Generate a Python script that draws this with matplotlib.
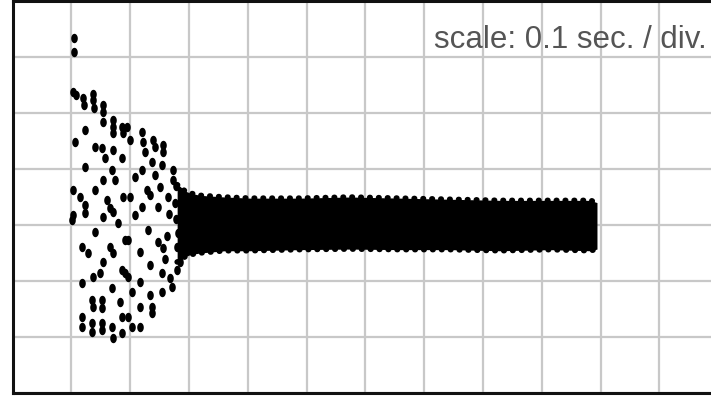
import matplotlib
matplotlib.use("Agg")
import matplotlib.pyplot as plt
import numpy as np

# trace values in scope divisions (x: 0.1 sec / div, y: amplitude div)
# scattered dots of the decaying start
dots_x = [1.03, 1.08, 1.20, 1.22, 1.37, 1.37, 1.39, 1.54, 1.54, 1.54, 1.71, 1.71,
          1.71, 1.86, 1.88, 1.23, 1.06, 1.40, 1.52, 1.71, 1.57, 1.86, 1.23, 1.69,
          1.54, 1.74, 1.03, 1.15, 1.23, 1.40, 1.61, 1.66, 1.88, 1.03, 1.54, 1.71,
          1.01, 1.23, 1.79, 1.91, 1.40, 1.18, 1.28, 1.66, 1.71, 1.54, 1.49, 1.37,
          1.86, 1.91, 1.18, 1.69, 1.35, 1.52, 1.37, 1.52, 1.83, 1.18, 1.18, 1.35,
          1.35, 1.52, 1.52, 1.69, 1.71, 1.86, 1.86,
          1.95, 1.99, 2.20, 2.22, 2.25, 2.39, 2.42, 2.56, 2.56, 2.37, 2.54, 2.73,
          2.73, 2.20, 2.08, 2.42, 2.51, 2.29, 1.99, 2.34, 2.64, 2.20, 2.47, 2.76,
          2.08, 2.30, 1.96, 2.17, 2.47, 2.56, 2.34, 2.85, 2.54, 2.68, 2.71, 2.17,
          1.96, 2.34, 2.54, 2.03, 2.17, 2.37, 2.37, 1.96, 2.03, 2.17,
          2.78, 2.78, 2.80, 2.80, 2.82, 2.66, 2.62, 2.60,
          1.05, 1.05]
dots_y = [5.38, 5.32, 5.27, 5.14, 5.34, 5.23, 5.09, 5.14, 5.02, 4.84, 4.88, 4.75,
          4.64, 4.75, 4.64, 4.70, 4.48, 4.39, 4.38, 4.34, 4.20, 4.20, 4.04, 3.98,
          3.80, 3.80, 3.63, 3.50, 3.36, 3.63, 3.45, 3.30, 3.50, 3.18, 3.14, 3.23,
          3.09, 3.21, 3.04, 2.73, 2.88, 2.61, 2.50, 2.61, 2.50, 2.34, 2.14, 2.07,
          2.20, 2.14, 1.96, 1.88, 1.66, 1.66, 1.54, 1.52, 1.63, 1.36, 1.18, 1.25,
          1.09, 1.25, 1.13, 1.18, 0.98, 1.36, 1.07,
          4.75, 4.52, 4.66, 4.48, 4.30, 4.52, 4.39, 4.43, 4.30, 4.13, 4.07, 3.98,
          3.80, 3.98, 3.86, 3.89, 3.68, 3.63, 3.50, 3.54, 3.50, 3.32, 3.32, 3.39,
          3.18, 2.91, 2.73, 2.52, 2.70, 2.59, 2.29, 2.34, 2.14, 2.05, 1.89, 1.98,
          2.07, 1.75, 1.80, 1.80, 1.54, 1.54, 1.43, 1.36, 1.18, 1.18,
          3.70, 3.10, 2.60, 2.20, 2.85, 3.20, 2.80, 2.40,
          6.34, 6.09]

# envelope of the dense steady band
band_x = [2.80, 2.85, 2.93, 3.02, 3.19, 3.61, 4.04, 4.89, 5.74, 6.59, 7.44,
          8.29, 9.14, 9.83, 9.94]
band_top = [3.72, 3.69, 3.61, 3.57, 3.53, 3.50, 3.48, 3.48, 3.50, 3.48, 3.46,
            3.44, 3.44, 3.44, 3.40]
band_bottom = [2.34, 2.36, 2.43, 2.47, 2.50, 2.54, 2.54, 2.56, 2.57, 2.56, 2.56,
               2.54, 2.56, 2.54, 2.57]

scale_label = "scale: 0.1 sec. / div."

fig = plt.figure(figsize=(7.11, 3.98), dpi=100)
ax = fig.add_axes([12.5 / 711, 5 / 398, 705.6 / 711, 392 / 398])
ax.set_xlim(0, 12)
ax.set_ylim(0, 7)

ax.set_xticks(range(13))
ax.set_yticks(range(8))
ax.grid(True, color="#c8c8c8", linewidth=1.6)
ax.set_axisbelow(True)
ax.tick_params(length=0, labelbottom=False, labelleft=False)
for sp in ax.spines.values():
    sp.set_linewidth(2.2)
    sp.set_color("#111111")

# slightly tall blob marker, like the scope dots
th = np.linspace(0, 2 * np.pi, 24)
blob = np.column_stack([0.7 * np.cos(th), np.sin(th)])

ax.fill_between(band_x, band_bottom, band_top, color="black", linewidth=0, zorder=3)
for edge in (band_top, band_bottom):
    ax.plot(band_x, edge, color="black", linewidth=4, linestyle=(0, (0.1, 1.5)),
            dash_capstyle="round", zorder=3)
ax.scatter(dots_x, dots_y, s=46, color="black", marker=blob, linewidths=0, zorder=3)

ax.text(11.80, 6.30, scale_label, ha="right", va="center", fontsize=22.5,
        color="#555555", family="Liberation Sans", zorder=4)

fig.savefig("out.png", dpi=100)
